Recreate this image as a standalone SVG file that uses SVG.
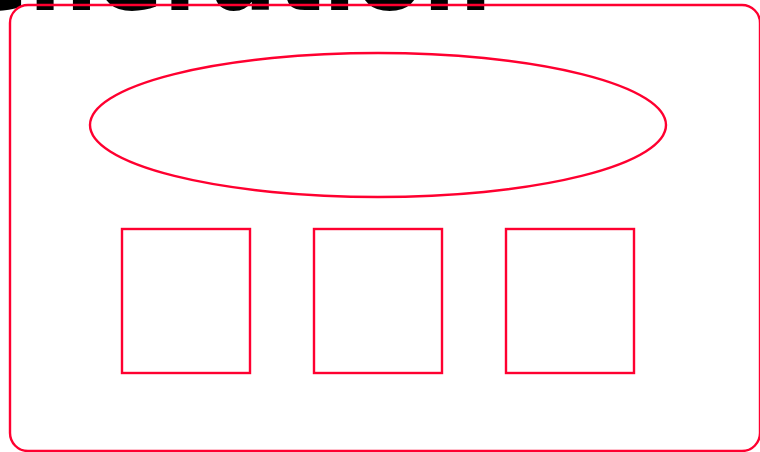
<svg xmlns="http://www.w3.org/2000/svg" width="760" height="452" viewBox="0 0 760 452">
<style>
.s{fill:none;stroke:#ff0030;stroke-width:2.4}
.t{font-family:"DejaVu Sans",sans-serif;font-weight:bold;font-size:97px;fill:#000}
</style>
<rect width="760" height="452" fill="#fff"/>
<text class="t" x="-117" y="10">Generation</text>
<g id="frame"><rect class="s" x="10" y="5" width="750" height="446" rx="18"/></g>
<g id="ellipse"><ellipse class="s" cx="378" cy="125" rx="288" ry="72"/></g>
<g id="box1"><rect class="s" x="122" y="229" width="128" height="144"/></g>
<g id="box2"><rect class="s" x="314" y="229" width="128" height="144"/></g>
<g id="box3"><rect class="s" x="506" y="229" width="128" height="144"/></g>
<g id="connectors"></g>
</svg>
